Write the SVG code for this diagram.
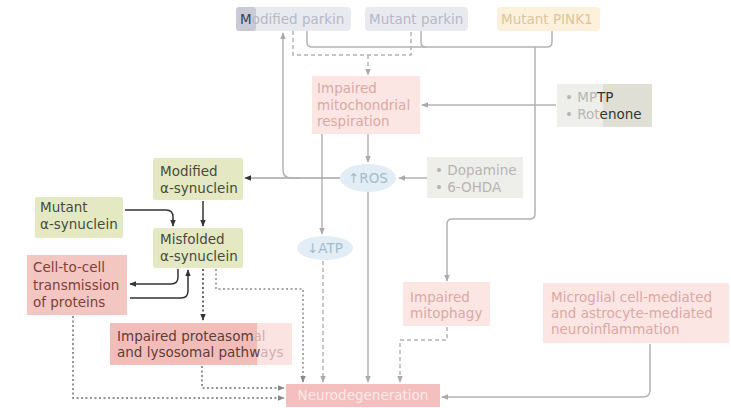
<svg xmlns="http://www.w3.org/2000/svg" width="731" height="408" viewBox="0 0 731 408">
<style>
text{font-family:"DejaVu Sans","Liberation Sans",sans-serif;font-size:13.5px}
.ln{fill:none;stroke:#b3b3b3;stroke-width:1.5}
.dk{fill:none;stroke:#333;stroke-width:1.5}
.dash{stroke-dasharray:4 3}
.dot{stroke-dasharray:2 2.5}
.fp{fill:#fbe6e4}.tfp{fill:#dba8a3}
.gr{fill:#e4e9c4}.tgr{fill:#4a4a3a}
.gy{fill:#eeeeea}.tgy{fill:#b6b6b2}
.pk{fill:#e9eaf0}.tpk{fill:#b7b8c4}
.el{fill:#e2edf5}.tel{fill:#a3bccd}
</style>
<defs>
<marker id="ag" viewBox="0 0 10 10" refX="9" refY="5" markerWidth="7" markerHeight="7" orient="auto" markerUnits="userSpaceOnUse"><path d="M0,1L10,5L0,9z" fill="#aaa"/></marker>
<marker id="ad" viewBox="0 0 10 10" refX="9" refY="5" markerWidth="7" markerHeight="7" orient="auto" markerUnits="userSpaceOnUse"><path d="M0,1L10,5L0,9z" fill="#333"/></marker>
<marker id="am" viewBox="0 0 10 10" refX="9" refY="5" markerWidth="7" markerHeight="7" orient="auto" markerUnits="userSpaceOnUse"><path d="M0,1L10,5L0,9z" fill="#888"/></marker>
</defs>

<g id="connectors">
<path class="ln dash" d="M293,31V55H411V31"/>
<path class="ln dash" d="M368,55V75" marker-end="url(#ag)"/>
<path class="ln" d="M307,31V42Q307,47 312,47H547Q552,47 552,42V31"/>
<path class="ln" d="M421,31V42Q421,47 426,47"/>
<path class="ln" d="M535,47V214Q535,219 530,219H452Q447,219 447,224V281" marker-end="url(#ag)"/>
<path class="ln" d="M556,105H422" marker-end="url(#ag)"/>
<path class="ln" d="M368,134V162" marker-end="url(#ag)"/>
<path class="ln" d="M322,134V234" marker-end="url(#ag)"/>
<path class="ln" d="M427,178H399" marker-end="url(#ag)"/>
<path class="ln" d="M340,178H245" marker-end="url(#ad)" style="stroke:#a6a6a6"/>
<path class="ln" d="M300,178H291Q283,178 283,170V33" marker-end="url(#ag)"/>
<path class="ln" d="M368,192V382" marker-end="url(#ag)"/>
<path class="ln dash" d="M323,261V382" marker-end="url(#ag)"/>
<path class="ln dash" d="M447,327V340H400V382" marker-end="url(#ag)"/>
<path class="ln" d="M650,344V390Q650,397 643,397H442" marker-end="url(#ag)"/>
<path class="dk" d="M203,201V226" marker-end="url(#ad)"/>
<path class="dk" d="M125,210H166Q173,210 173,217V226" marker-end="url(#ad)"/>
<path class="dk" d="M178,269V277Q178,284 171,284H130" marker-end="url(#ad)"/>
<path class="dk" d="M130,298H181Q188,298 188,291V270" marker-end="url(#ad)"/>
<path class="dk dot" d="M203,269V320" marker-end="url(#ad)"/>
<path class="dk dot" d="M216,269V289H303V382" marker-end="url(#am)" style="stroke:#8a8a8a"/>
<path class="dk dot" d="M202,366V388H284" marker-end="url(#am)" style="stroke:#707070"/>
<path class="dk dot" d="M73,316V398H284" marker-end="url(#am)" style="stroke:#707070"/>
</g>

<g id="modified-parkin">
<rect class="pk" x="236" y="7" width="115" height="24" rx="4"/>
<rect x="236" y="7" width="20" height="24" rx="3" fill="#c9cad6"/>
<text x="240" y="24" class="tpk"><tspan fill="#3c3e50">M</tspan>odified parkin</text>
</g>
<g id="mutant-parkin">
<rect class="pk" x="365" y="7" width="103" height="24" rx="4"/>
<text x="369" y="24" class="tpk">Mutant parkin</text>
</g>
<g id="mutant-pink1">
<rect x="497" y="7" width="103" height="24" rx="4" fill="#fdf1dc"/>
<text x="501" y="24" fill="#dcc59d">Mutant PINK1</text>
</g>
<g id="impaired-respiration">
<rect class="fp" x="312" y="76" width="108" height="58"/>
<text class="tfp"><tspan x="317" y="93">Impaired</tspan><tspan x="317" y="110">mitochondrial</tspan><tspan x="317" y="126">respiration</tspan></text>
</g>
<g id="mptp-rotenone">
<rect class="gy" x="557" y="84" width="95" height="43"/>
<rect x="603" y="84" width="49" height="43" fill="#dfdfd5"/>
<text class="tgy"><tspan x="565" y="102">• MP<tspan fill="#333">TP</tspan></tspan><tspan x="565" y="119">• Rot<tspan fill="#333">enone</tspan></tspan></text>
</g>
<g id="ros">
<ellipse class="el" cx="368" cy="178" rx="28" ry="14"/>
<text x="368" y="183" text-anchor="middle" class="tel">↑ROS</text>
</g>
<g id="dopamine">
<rect class="gy" x="427" y="157" width="96" height="41"/>
<text class="tgy"><tspan x="435" y="175">• Dopamine</tspan><tspan x="435" y="192">• 6-OHDA</tspan></text>
</g>
<g id="atp">
<ellipse class="el" cx="325" cy="248" rx="28" ry="12"/>
<text x="325" y="253" text-anchor="middle" class="tel">↓ATP</text>
</g>
<g id="impaired-mitophagy">
<rect class="fp" x="403" y="282" width="87" height="44"/>
<text class="tfp"><tspan x="410" y="302">Impaired</tspan><tspan x="410" y="318">mitophagy</tspan></text>
</g>
<g id="neuroinflammation">
<rect class="fp" x="543" y="283" width="186" height="60"/>
<text class="tfp"><tspan x="551" y="302">Microglial cell-mediated</tspan><tspan x="551" y="318">and astrocyte-mediated</tspan><tspan x="551" y="334">neuroinflammation</tspan></text>
</g>
<g id="neurodegeneration">
<rect x="286" y="384" width="154" height="23" fill="#f5bfbf"/>
<text x="363" y="400" text-anchor="middle" fill="#fde9e9">Neurodegeneration</text>
</g>
<g id="modified-asyn">
<rect class="gr" x="153" y="158" width="90" height="42" rx="2"/>
<text class="tgr"><tspan x="160" y="176">Modified</tspan><tspan x="160" y="193">α-synuclein</tspan></text>
</g>
<g id="mutant-asyn">
<rect class="gr" x="35" y="197" width="88" height="41" rx="2"/>
<text class="tgr"><tspan x="40" y="212">Mutant</tspan><tspan x="40" y="229">α-synuclein</tspan></text>
</g>
<g id="misfolded-asyn">
<rect class="gr" x="153" y="228" width="90" height="40" rx="2"/>
<text class="tgr"><tspan x="160" y="244">Misfolded</tspan><tspan x="160" y="261">α-synuclein</tspan></text>
</g>
<g id="cell-to-cell">
<rect x="27" y="255" width="100" height="60" fill="#f3c6c1"/>
<text fill="#7e4038"><tspan x="33" y="272">Cell-to-cell</tspan><tspan x="33" y="290">transmission</tspan><tspan x="33" y="307">of proteins</tspan></text>
</g>
<g id="impaired-proteasomal">
<rect x="110" y="323" width="182" height="42" fill="#fbe3e1"/>
<rect x="110" y="323" width="147" height="42" fill="#f2bdb8"/>
<text fill="#5a3e3e"><tspan x="117" y="341">Impaired proteasom<tspan fill="#d4aeab">al</tspan></tspan><tspan x="117" y="357">and lysosomal pathw<tspan fill="#d4aeab">ays</tspan></tspan></text>
</g>
</svg>
